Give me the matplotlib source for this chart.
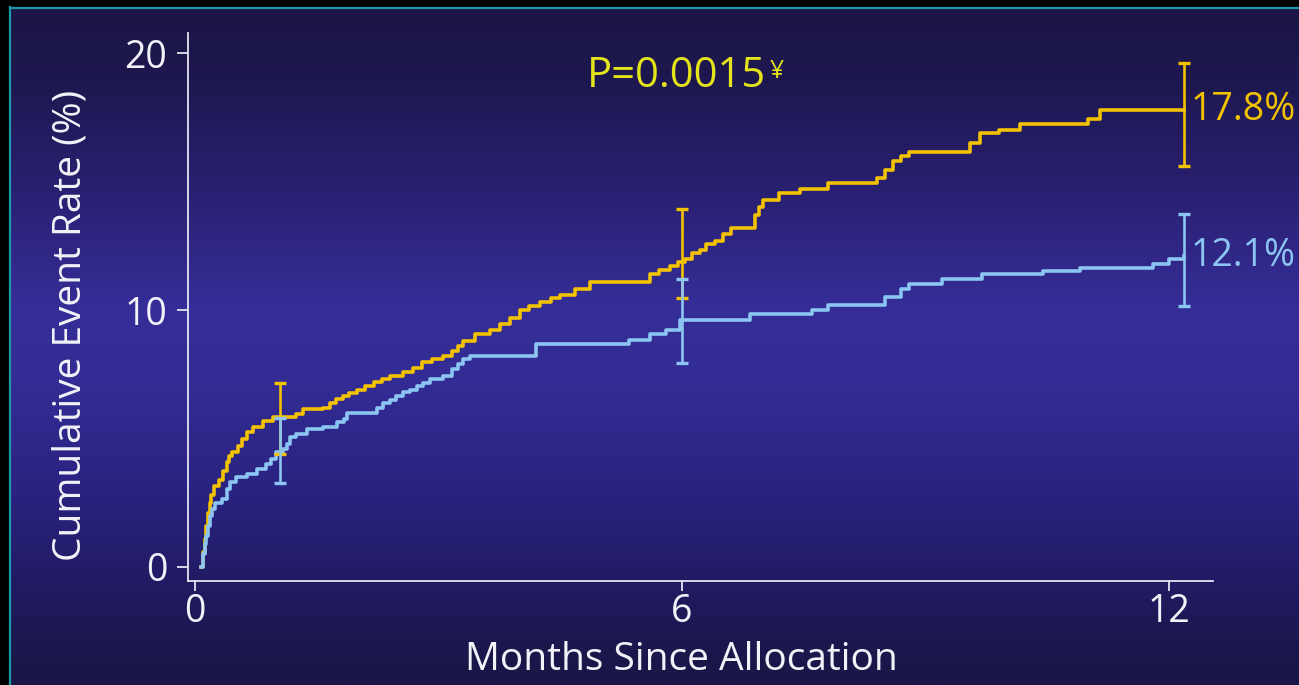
import matplotlib
matplotlib.use("Agg")
import matplotlib.pyplot as plt
import numpy as np
from matplotlib.colors import LinearSegmentedColormap
from matplotlib.patches import Rectangle

plt.rcParams["font.family"] = ["Open Sans", "DejaVu Sans"]

# cumulative event rate (%) by month since allocation, step curves
yellow_months = [0.08, 0.10, 0.12, 0.14, 0.16, 0.18, 0.20, 0.24, 0.30, 0.35,
                 0.39, 0.42, 0.45, 0.53, 0.58, 0.64, 0.72, 0.84, 0.96, 1.25,
                 1.33, 1.58, 1.66, 1.74, 1.82, 1.90, 2.00, 2.10, 2.20, 2.30,
                 2.40, 2.56, 2.68, 2.80, 2.92, 3.05, 3.17, 3.24, 3.30, 3.45,
                 3.63, 3.76, 3.88, 4.00, 4.12, 4.25, 4.38, 4.50, 4.68, 4.86,
                 5.60, 5.72, 5.85, 5.95, 6.03, 6.12, 6.22, 6.30, 6.40, 6.50,
                 6.60, 6.90, 6.95, 7.00, 7.20, 7.45, 7.80, 8.40, 8.50, 8.60,
                 8.70, 8.80, 9.55, 9.67, 9.90, 10.16, 11.00, 11.15, 12.18]
yellow_rate = [0, 0.6, 1.1, 1.6, 2.1, 2.5, 2.8, 3.15, 3.4, 3.75,
               4.07, 4.3, 4.47, 4.7, 5.0, 5.24, 5.44, 5.67, 5.83, 5.94,
               6.14, 6.2, 6.4, 6.52, 6.64, 6.78, 6.9, 7.05, 7.2, 7.32,
               7.42, 7.57, 7.75, 7.96, 8.1, 8.2, 8.4, 8.6, 8.8, 9.05,
               9.24, 9.44, 9.7, 10.0, 10.15, 10.3, 10.45, 10.6, 10.8, 11.1,
               11.4, 11.55, 11.7, 11.85, 12.0, 12.2, 12.35, 12.55, 12.7, 12.95,
               13.2, 13.7, 14.0, 14.3, 14.56, 14.7, 14.95, 15.15, 15.45, 15.8,
               16.0, 16.15, 16.5, 16.9, 17.0, 17.25, 17.45, 17.8, 17.8]

blue_months = [0.08, 0.10, 0.12, 0.14, 0.16, 0.18, 0.21, 0.25, 0.33, 0.39,
               0.43, 0.51, 0.64, 0.76, 0.88, 0.94, 1.00, 1.09, 1.13, 1.17,
               1.25, 1.38, 1.58, 1.75, 1.83, 1.87, 2.12, 2.24, 2.32, 2.40,
               2.48, 2.56, 2.65, 2.73, 2.81, 2.89, 3.05, 3.17, 3.24, 3.30,
               3.39, 4.20, 5.35, 5.60, 5.80, 5.97, 6.84, 7.60, 7.80, 8.50,
               8.70, 8.80, 9.20, 9.70, 10.45, 10.90, 11.80, 12.00, 12.18]
blue_rate = [0, 0.5, 0.9, 1.2, 1.6, 2.0, 2.25, 2.5, 2.64, 3.03,
             3.3, 3.5, 3.6, 3.8, 4.0, 4.2, 4.47, 4.58, 4.8, 5.05,
             5.17, 5.36, 5.44, 5.63, 5.75, 6.0, 6.0, 6.2, 6.4, 6.5,
             6.64, 6.8, 6.9, 7.03, 7.15, 7.3, 7.42, 7.7, 7.9, 8.08,
             8.2, 8.66, 8.85, 9.05, 9.24, 9.6, 9.83, 10.0, 10.2, 10.5,
             10.8, 11.0, 11.2, 11.4, 11.5, 11.65, 11.8, 12.0, 12.1]

# confidence intervals at 1, 6 and 12 months
ci_months = [1.05, 6.0, 12.18]
yellow_ci_mid = [5.83, 12.0, 17.8]
yellow_ci_low = [4.4, 10.45, 15.6]
yellow_ci_high = [7.15, 13.95, 19.6]
blue_ci_mid = [4.47, 9.6, 12.1]
blue_ci_low = [3.25, 7.95, 10.15]
blue_ci_high = [5.8, 11.2, 13.75]

end_labels = ["17.8%", "12.1%"]
p_text = "P=0.0015"

YELLOW = "#f2c200"
BLUE = "#8cc4f2"
AXIS = "#e4e4f2"
TEXT = "#f2f2f8"

fig = plt.figure(figsize=(12.99, 6.85), dpi=100)

# background: vertical gradient with a dark frame and teal edge
bg = fig.add_axes([0, 0, 1, 1])
bg.set_axis_off()
stops = [(0.0, "#1b1644"), (0.12, "#1e1850"), (0.28, "#2a2072"), (0.45, "#352e98"),
         (0.56, "#332c94"), (0.72, "#2a2380"), (0.85, "#211b64"), (0.93, "#1c1850"),
         (1.0, "#1b1646")]
cmap = LinearSegmentedColormap.from_list("bg", stops)
grad = np.linspace(0, 1, 685).reshape(-1, 1)
bg.imshow(grad, cmap=cmap, aspect="auto", extent=(0, 1, 0, 1), origin="upper")
bg.add_patch(Rectangle((0, 0), 9 / 1299, 1, color="black"))
bg.add_patch(Rectangle((0, 1 - 6 / 685), 1, 6 / 685, color="black"))
bg.plot([10 / 1299, 10 / 1299], [0, 1 - 7 / 685], color="#1a9aa8", lw=1.6)
bg.plot([10 / 1299, 1], [1 - 7.5 / 685, 1 - 7.5 / 685], color="#1a9aa8", lw=1.6)
bg.set_xlim(0, 1)
bg.set_ylim(0, 1)

ax = fig.add_axes([188 / 1299, 104 / 685, 1025 / 1299, 548 / 685])
ax.patch.set_alpha(0)

ax.step(yellow_months, yellow_rate, where="post", color=YELLOW, lw=2.6, zorder=3)
ax.step(blue_months, blue_rate, where="post", color=BLUE, lw=2.6, zorder=3)

for mid, lo, hi, col in [(yellow_ci_mid, yellow_ci_low, yellow_ci_high, YELLOW),
                         (blue_ci_mid, blue_ci_low, blue_ci_high, BLUE)]:
    mid = np.array(mid)
    err = [mid - np.array(lo), np.array(hi) - mid]
    ax.errorbar(ci_months, mid, yerr=err, fmt="none", ecolor=col, elinewidth=1.9,
                capsize=4, capthick=2.4, zorder=4)

ax.text(12.26, yellow_ci_mid[-1], end_labels[0], color=YELLOW, fontsize=27,
        va="center", ha="left")
ax.text(12.26, blue_ci_mid[-1], end_labels[1], color=BLUE, fontsize=27,
        va="center", ha="left")

ptxt = ax.text(4.83, 19.1, p_text, color="#e4e41a", fontsize=30, va="center", ha="left")
ax.annotate("¥", xy=(1.02, 0.92), xycoords=ptxt, color="#e4e41a", fontsize=18,
            va="top", ha="left")

ax.set_xlim(-0.086, 12.54)
ax.set_ylim(-0.545, 20.78)
ax.set_xticks([0, 6, 12])
ax.set_yticks([0, 10, 20])

for side in ["top", "right"]:
    ax.spines[side].set_visible(False)
for side in ["left", "bottom"]:
    ax.spines[side].set_color(AXIS)
    ax.spines[side].set_linewidth(1.3)

ax.tick_params(axis="both", colors=AXIS, labelsize=27, width=1.3, labelcolor=TEXT)
ax.tick_params(axis="y", length=8, pad=7)
ax.tick_params(axis="x", length=7, pad=2)

ax.set_xlabel("Months Since Allocation", fontsize=28, color=TEXT, va="center")
ax.set_ylabel("Cumulative Event Rate (%)", fontsize=28, color=TEXT, va="center")
ax.xaxis.set_label_coords(0.481, -0.144)
ax.yaxis.set_label_coords(-0.115, 0.467)

fig.savefig("out.png", dpi=100)
